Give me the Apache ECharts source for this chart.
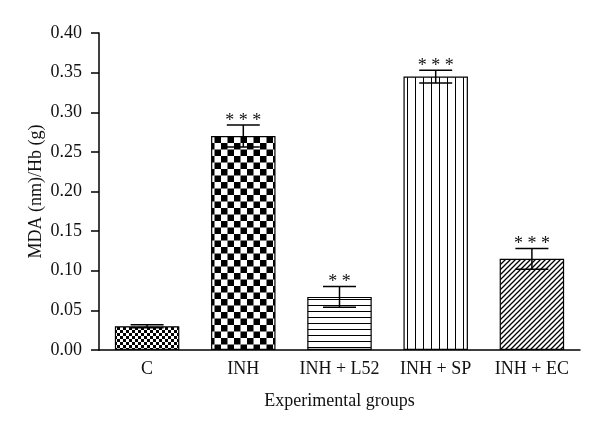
<!DOCTYPE html>
<html><head><meta charset="utf-8">
<script src="https://cdn.jsdelivr.net/npm/echarts@6/dist/echarts.min.js"></script>
<style>html,body{margin:0;padding:0;background:#fff}#c{width:600px;height:430px}</style>
</head><body><div id="c"></div>
<script>
const categories = ['C', 'INH', 'INH + L52', 'INH + SP', 'INH + EC'];
const means = [0.030, 0.270, 0.067, 0.345, 0.115];
const errors = [0.002, 0.014, 0.013, 0.008, 0.013];
const stars = ['', '***', '**', '***', '***'];
const yTicks = [0, 0.05, 0.10, 0.15, 0.20, 0.25, 0.30, 0.35, 0.40];

function mk(w, h, draw) {
  const c = document.createElement('canvas'); c.width = w; c.height = h;
  const g = c.getContext('2d'); g.fillStyle = '#fff'; g.fillRect(0, 0, w, h);
  g.fillStyle = '#000'; g.strokeStyle = '#000'; draw(g); return c;
}
const patterns = [
  mk(6, 6, g => { g.fillRect(0, 0, 3, 3); g.fillRect(3, 3, 3, 3); }),
  mk(13, 13, g => { g.fillRect(0, 0, 6.5, 6.5); g.fillRect(6.5, 6.5, 6.5, 6.5); }),
  mk(6, 6, g => { g.fillRect(0, 5, 6, 1.3); }),
  mk(8, 8, g => { g.fillRect(7, 0, 1.3, 8); }),
  mk(5, 5, g => { g.lineWidth = 1.3; g.beginPath(); g.moveTo(-1, 6); g.lineTo(6, -1); g.moveTo(-1, 1); g.lineTo(1, -1); g.moveTo(4, 6); g.lineTo(6, 4); g.stroke(); })
];

const font = '"Liberation Serif", "DejaVu Serif", serif';
const chart = echarts.init(document.getElementById('c'));
chart.setOption({
  animation: false,
  grid: { left: 99, right: 20, top: 33, bottom: 80 },
  xAxis: {
    type: 'category', data: categories,
    axisLine: { lineStyle: { color: '#000', width: 1.5 } },
    axisTick: { show: false },
    axisLabel: { color: '#111', fontFamily: font, fontSize: 18, margin: 10, interval: 0, hideOverlap: false },
    name: 'Experimental groups', nameLocation: 'middle', nameGap: 42,
    nameTextStyle: { color: '#111', fontFamily: font, fontSize: 18 }
  },
  yAxis: {
    type: 'value', min: 0, max: 0.40, interval: 0.05,
    axisLine: { show: true, lineStyle: { color: '#000', width: 1.5 } },
    axisTick: { show: true, length: 8, lineStyle: { color: '#000', width: 1.5 } },
    splitLine: { show: false },
    axisLabel: { color: '#111', fontFamily: font, fontSize: 18, margin: 17, formatter: v => v.toFixed(2) },
    name: 'MDA (nm)/Hb (g)', nameLocation: 'middle', nameGap: 54, nameMoveOverlap: false,
    nameTextStyle: { color: '#111', fontFamily: font, fontSize: 18 }
  },
  series: [
    {
      type: 'bar', barWidth: '67%',
      data: means.map((v, i) => ({ value: v, itemStyle: { color: { image: patterns[i], repeat: 'repeat' } } })),
      itemStyle: { borderColor: '#000', borderWidth: 1.2 }
    },
    {
      type: 'custom', z: 5,
      data: means.map((v, i) => [i, v, errors[i], stars[i]]),
      renderItem: function (params, api) {
        const i = api.value(0), m = api.value(1), e = api.value(2);
        const top = api.coord([i, m + e]), bot = api.coord([i, m - e]);
        const half = 16.5;
        const x = top[0];
        const lw = { stroke: '#000', lineWidth: 1.5 };
        const ch = [
          { type: 'line', shape: { x1: x, y1: top[1], x2: x, y2: bot[1] }, style: lw },
          { type: 'line', shape: { x1: x - half, y1: top[1], x2: x + half, y2: top[1] }, style: lw },
          { type: 'line', shape: { x1: x - half, y1: bot[1], x2: x + half, y2: bot[1] }, style: lw }
        ];
        const s = stars[params.dataIndex];
        if (s) ch.push({ type: 'text', style: { text: s.split('').join(' '), x: x, y: top[1] + 5, align: 'center', verticalAlign: 'bottom', font: '18px ' + font, fill: '#111' } });
        return { type: 'group', children: ch };
      }
    }
  ]
});
</script></body></html>
